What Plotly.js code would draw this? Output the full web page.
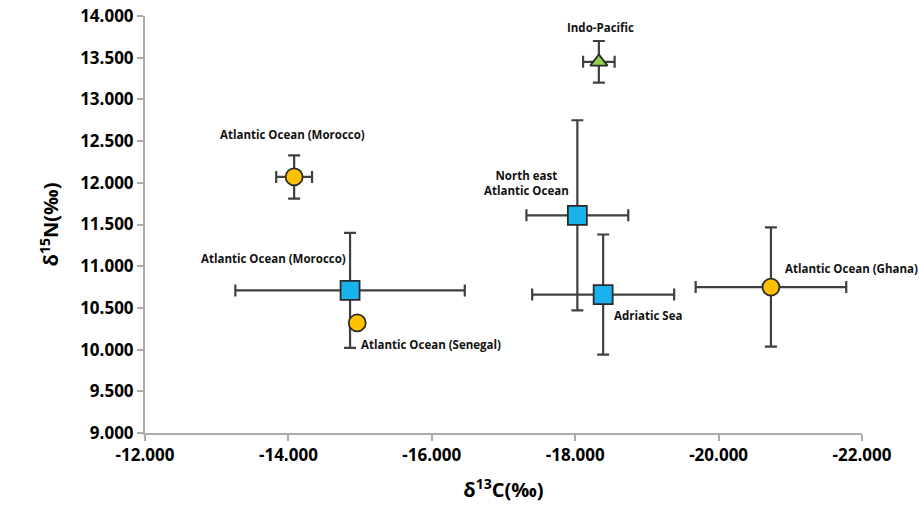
<!DOCTYPE html>
<html>
<head>
<meta charset="utf-8">
<script src="https://cdn.plot.ly/plotly-3.0.1.min.js"></script>
<style>html,body{margin:0;padding:0;background:#fff;}#chart{width:919px;height:527px;}</style>
</head>
<body>
<div id="chart"></div>
<script>
// ---- data ----
const sites = ["Indo-Pacific", "Atlantic Ocean (Morocco)", "Atlantic Ocean (Morocco)", "Atlantic Ocean (Senegal)", "North east<br>Atlantic Ocean", "Adriatic Sea", "Atlantic Ocean (Ghana)"];
const d13C  = [-18.33, -14.08, -14.86, -14.96, -18.03, -18.39, -20.73];
const d15N  = [13.45, 12.07, 10.71, 10.32, 11.61, 10.66, 10.75];
const errC  = [0.22, 0.25, 1.60, 0, 0.71, 0.99, 1.05];
const errN  = [0.25, 0.26, 0.69, 0, 1.14, 0.72, 0.715];
const symbols = ["triangle-up", "circle", "square", "circle", "square", "square", "circle"];
const xTickVals = [-12, -14, -16, -18, -20, -22];
const xTickText = ["-12.000", "-14.000", "-16.000", "-18.000", "-20.000", "-22.000"];
const yTickVals = [9, 9.5, 10, 10.5, 11, 11.5, 12, 12.5, 13, 13.5, 14];
const yTickText = ["9.000", "9.500", "10.000", "10.500", "11.000", "11.500", "12.000", "12.500", "13.000", "13.500", "14.000"];

// ---- styles ----
const fillBySymbol = {"triangle-up": "#92D050", "circle": "#FFC000", "square": "#1AB2EC"};
const sizeBySymbol = {"triangle-up": 15, "circle": 17, "square": 19};
const labelPlacement = [
  {xanchor: "center", xshift: 2,   yshift: 34,  align: "center"},
  {xanchor: "center", xshift: -2,  yshift: 42,  align: "center"},
  {xanchor: "right",  xshift: -2,  yshift: 32,  align: "right"},
  {xanchor: "left",   xshift: 2,   yshift: -22, align: "left"},
  {xanchor: "center", xshift: -51, yshift: 32,  align: "center"},
  {xanchor: "left",   xshift: 9,   yshift: -21, align: "left"},
  {xanchor: "left",   xshift: 12,  yshift: 19,  align: "left"}
];

const traces = sites.map((s, i) => {
  const t = {
    type: "scatter", mode: "markers",
    x: [d13C[i]], y: [d15N[i]],
    marker: {symbol: symbols[i], size: sizeBySymbol[symbols[i]], color: fillBySymbol[symbols[i]],
             line: {color: "#2b2b2b", width: 1.8}},
    showlegend: false, hoverinfo: "x+y"
  };
  if (errC[i] > 0) t.error_x = {type: "data", array: [errC[i]], visible: true, color: "#404040", thickness: 2.2, width: 6};
  if (errN[i] > 0) t.error_y = {type: "data", array: [errN[i]], visible: true, color: "#404040", thickness: 2.2, width: 6};
  return t;
});

const annotations = sites.map((s, i) => Object.assign({
  x: d13C[i], y: d15N[i], xref: "x", yref: "y",
  text: "<b>" + s + "</b>", showarrow: false, yanchor: "middle",
  font: {family: "Open Sans, sans-serif", size: 11.5, color: "#111"}
}, labelPlacement[i]));

const axisFont = {family: "Open Sans, sans-serif", size: 17, color: "#000", weight: "bold"};

const layout = {
  width: 919, height: 527,
  margin: {l: 145, r: 57, t: 16, b: 94},
  paper_bgcolor: "#fff", plot_bgcolor: "#fff",
  showlegend: false,
  xaxis: {
    range: [-12, -22], showgrid: false, zeroline: false,
    showline: true, linecolor: "#ababab", linewidth: 2,
    ticks: "outside", ticklen: 6, tickcolor: "#ababab", tickwidth: 2,
    tickvals: xTickVals, ticktext: xTickText, tickfont: axisFont,
    title: {text: "<b>δ<sup>13</sup>C(‰)</b>", font: {family: "Open Sans, sans-serif", size: 20, color: "#000"}, standoff: 18}
  },
  yaxis: {
    range: [9, 14], showgrid: false, zeroline: false,
    showline: true, linecolor: "#ababab", linewidth: 2,
    ticks: "outside", ticklen: 6, tickcolor: "#ababab", tickwidth: 2,
    tickvals: yTickVals, ticktext: yTickText, tickfont: axisFont,
    title: {text: "<b>δ<sup>15</sup>N(‰)</b>", font: {family: "Open Sans, sans-serif", size: 20, color: "#000"}, standoff: 16}
  },
  annotations: annotations
};

Plotly.newPlot("chart", traces, layout, {displayModeBar: false, staticPlot: true});
</script>
</body>
</html>
